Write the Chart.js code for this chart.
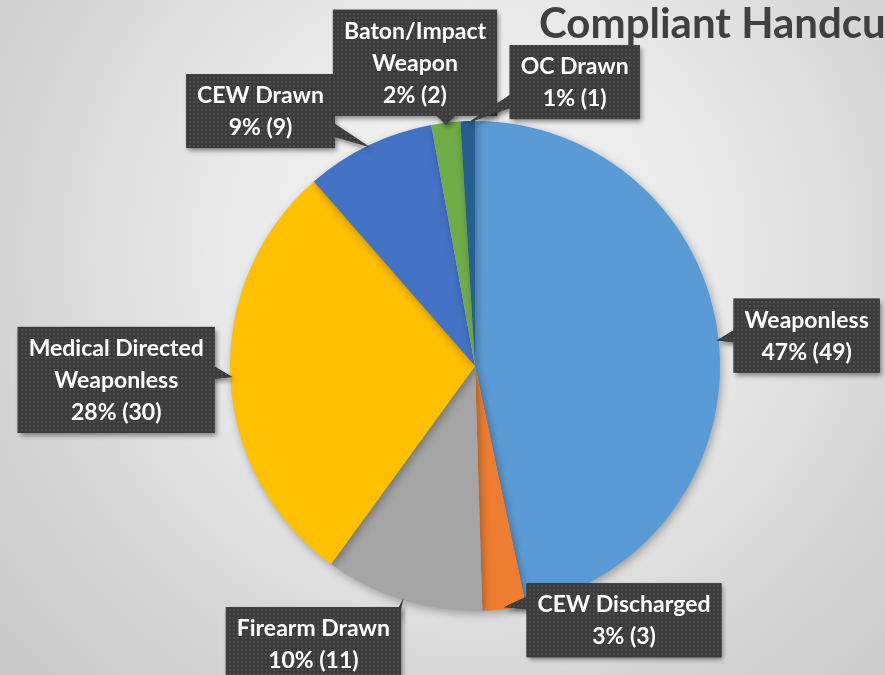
<!DOCTYPE html>
<html>
<head>
<meta charset="utf-8">
<script src="https://cdn.jsdelivr.net/npm/chart.js@4"></script>
<style>
  html, body { margin: 0; padding: 0; overflow: hidden; }
  body { width: 885px; height: 675px;
    background: radial-gradient(circle at 470px 250px, #f7f7f7 0%, #e9e9e9 40%, #d4d4d4 75%, #c8c8c8 100%); }
  #wrap { position: absolute; left: 0; top: 0; width: 885px; height: 675px; }
</style>
</head>
<body>
<div id="wrap"><canvas id="pie" width="885" height="675"></canvas></div>
<script>
  // data
  const categories = ['Weaponless', 'CEW Discharged', 'Firearm Drawn', 'Medical Directed Weaponless',
                      'CEW Drawn', 'Baton/Impact Weapon', 'OC Drawn'];
  const counts = [49, 3, 11, 30, 9, 2, 1];
  const percents = ['47%', '3%', '10%', '28%', '9%', '2%', '1%'];
  const labelLines = [['Weaponless'], ['CEW Discharged'], ['Firearm Drawn'], ['Medical Directed', 'Weaponless'],
                      ['CEW Drawn'], ['Baton/Impact', 'Weapon'], ['OC Drawn']];
  const titleText = 'Compliant Handcuffing';

  // layout of the callout boxes, offset from the slice's outer mid point
  const boxOffsets = [[90, -5], [120, 13], [-90, 46], [-116, 3], [-109, -36], [-31, -62], [107, -41]];
  const colors = ['#5B9BD5', '#ED7D31', '#A5A5A5', '#FFC000', '#4472C4', '#70AD47', '#255E91'];

  const FONT = 'bold 23px Lato';
  const LINE = 32;

  function dotPattern(ctx) {
    const c = document.createElement('canvas'); c.width = 4; c.height = 4;
    const g = c.getContext('2d');
    g.fillStyle = '#3b3b3b'; g.fillRect(0, 0, 4, 4);
    g.fillStyle = '#4f4f4f'; g.fillRect(1, 1, 2, 2);
    return ctx.createPattern(c, 'repeat');
  }

  const callouts = {
    id: 'callouts',
    afterDatasetsDraw(chart) {
      const ctx = chart.ctx;
      const meta = chart.getDatasetMeta(0);
      const pat = dotPattern(ctx);
      ctx.save();
      ctx.font = FONT;
      meta.data.forEach((arc, i) => {
        const p = arc.getProps(['x', 'y', 'startAngle', 'endAngle', 'outerRadius'], true);
        const mid = (p.startAngle + p.endAngle) / 2;
        const tx = p.x + Math.cos(mid) * (p.outerRadius - 2);
        const ty = p.y + Math.sin(mid) * (p.outerRadius - 2);
        const lines = labelLines[i].concat([percents[i] + ' (' + counts[i] + ')']);
        const w = Math.max(...lines.map(l => ctx.measureText(l).width)) + 22;
        const h = lines.length * LINE + 10;
        const cx = tx + boxOffsets[i][0], cy = ty + boxOffsets[i][1];
        const x0 = cx - w / 2, y0 = cy - h / 2;
        // base of the tail: nearest point on the box, spread along that edge
        const nx = Math.min(Math.max(tx, x0), x0 + w), ny = Math.min(Math.max(ty, y0), y0 + h);
        let b1, b2;
        if (nx === x0 || nx === x0 + w) {
          const yy = Math.min(Math.max(ny, y0 + 14), y0 + h - 14);
          const ix = nx === x0 ? nx + 3 : nx - 3;
          b1 = [ix, yy - 12]; b2 = [ix, yy + 2];
        } else {
          const xx = Math.min(Math.max(nx, x0 + 14), x0 + w - 14);
          const iy = ny === y0 ? ny + 3 : ny - 3;
          b1 = [xx - 12, iy]; b2 = [xx + 12, iy];
        }
        const tail = () => { ctx.beginPath(); ctx.moveTo(tx, ty); ctx.lineTo(b1[0], b1[1]); ctx.lineTo(b2[0], b2[1]); ctx.closePath(); };
        ctx.save();
        ctx.shadowColor = 'rgba(0,0,0,0.45)'; ctx.shadowBlur = 5; ctx.shadowOffsetX = 2; ctx.shadowOffsetY = 3;
        ctx.fillStyle = '#3b3b3b';
        tail(); ctx.fill();
        ctx.fillRect(x0, y0, w, h);
        ctx.restore();
        ctx.fillStyle = pat;
        tail(); ctx.fill();
        ctx.fillRect(x0, y0, w, h);
        ctx.fillStyle = '#ffffff';
        ctx.textAlign = 'center';
        ctx.textBaseline = 'alphabetic';
        lines.forEach((l, k) => ctx.fillText(l, cx, y0 + 29 + k * LINE));
      });
      // title
      ctx.font = 'bold 42px Lato';
      ctx.fillStyle = '#404040';
      ctx.textAlign = 'left';
      ctx.fillText(titleText, 539, 38);
      ctx.restore();
    }
  };

  const pieShadow = {
    id: 'pieShadow',
    beforeDatasetsDraw(chart) {
      const ctx = chart.ctx;
      ctx.save();
      ctx.shadowColor = 'rgba(0,0,0,0.3)'; ctx.shadowBlur = 8; ctx.shadowOffsetX = 2; ctx.shadowOffsetY = 3;
    },
    afterDatasetsDraw(chart) { chart.ctx.restore(); }
  };

  new Chart(document.getElementById('pie'), {
    type: 'pie',
    data: {
      labels: categories,
      datasets: [{ data: counts, backgroundColor: colors, borderWidth: 0 }]
    },
    options: {
      responsive: false,
      animation: false,
      layout: { padding: { left: 230, right: 165, top: 121, bottom: 64 } },
      plugins: { legend: { display: false }, tooltip: { enabled: false }, title: { display: false } }
    },
    plugins: [pieShadow, callouts]
  });
</script>
</body>
</html>
